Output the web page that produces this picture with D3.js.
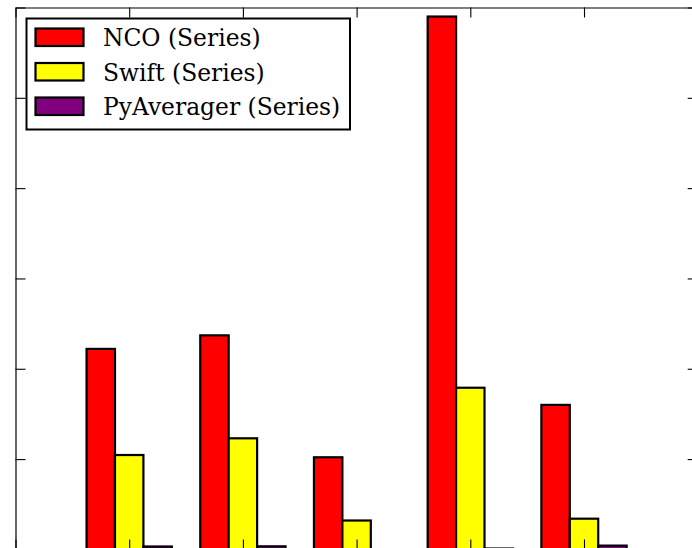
<!DOCTYPE html>
<html>
<head>
<meta charset="utf-8">
<script src="https://cdn.jsdelivr.net/npm/d3@7"></script>
<style>
  html, body { margin: 0; padding: 0; background: #fff; }
  svg { display: block; overflow: hidden; }
</style>
</head>
<body>
<div id="chart"></div>
<script>
// Group positions on the x axis and the three series plotted at each one
const categories = [1, 2, 3, 4, 5];
const seriesNames = ["NCO (Series)", "Swift (Series)", "PyAverager (Series)"];
const seriesColors = ["#ff0000", "#ffff00", "#800080"];
const ncoValues = [2.22, 2.37, 1.02, 5.90, 1.60];
const swiftValues = [1.045, 1.23, 0.32, 1.79, 0.34];
const pyAveragerValues = [0.032, 0.034, 0.0, 0.01, 0.042];
const xTicks = [0, 1, 2, 3, 4, 5, 6];
const yTicks = [0, 1, 2, 3, 4, 5, 6];

const series = [ncoValues, swiftValues, pyAveragerValues];

const W = 692, H = 548;
const svg = d3.select("#chart").append("svg")
  .attr("width", W).attr("height", H);

// Axes frame: the plot area extends slightly past the visible window
const x = d3.scaleLinear().domain([0, 6]).range([15.5, 697.7]);
const y = d3.scaleLinear().domain([0, 6]).range([549.4, 7.5]);

const barW = x(0.25) - x(0);
const offsets = [-0.375, -0.125, 0.125];

// Bars, one series after the other
series.forEach((vals, si) => {
  svg.append("g").selectAll("rect")
    .data(categories.map((c, i) => ({ c, v: vals[i] })))
    .join("rect")
    .attr("x", d => x(d.c + offsets[si]))
    .attr("width", barW)
    .attr("y", d => y(d.v))
    .attr("height", d => y(0) - y(d.v))
    .attr("fill", seriesColors[si])
    .attr("stroke", "#000")
    .attr("stroke-width", 2.2);
});

// Spines with inward ticks on every side, no tick labels
const tick = 10;
function styleAxis(g) {
  g.selectAll("text").remove();
  g.selectAll("path.domain").attr("stroke", "#000").attr("stroke-width", 1.2);
  g.selectAll(".tick line").attr("stroke", "#000").attr("stroke-width", 1.1);
}
svg.append("g").attr("transform", `translate(${x(0)},0)`)
  .call(d3.axisLeft(y).tickValues(yTicks).tickSize(-tick).tickSizeOuter(0).tickFormat(""))
  .call(styleAxis);
svg.append("g").attr("transform", `translate(${x(6)},0)`)
  .call(d3.axisRight(y).tickValues(yTicks).tickSize(-tick).tickSizeOuter(0).tickFormat(""))
  .call(styleAxis);
svg.append("g").attr("transform", `translate(0,${y(6)})`)
  .call(d3.axisTop(x).tickValues(xTicks).tickSize(-tick).tickSizeOuter(0).tickFormat(""))
  .call(styleAxis);
svg.append("g").attr("transform", `translate(0,${y(0)})`)
  .call(d3.axisBottom(x).tickValues(xTicks).tickSize(-tick).tickSizeOuter(0).tickFormat(""))
  .call(styleAxis);

// Legend
const legend = svg.append("g");
legend.append("rect")
  .attr("x", 26.5).attr("y", 18.5).attr("width", 323.5).attr("height", 111)
  .attr("fill", "#fff").attr("stroke", "#000").attr("stroke-width", 2);
seriesNames.forEach((name, i) => {
  const rowY = 28.5 + i * 34.5;
  legend.append("rect")
    .attr("x", 35.5).attr("y", rowY).attr("width", 48).attr("height", 17.5)
    .attr("fill", seriesColors[i]).attr("stroke", "#000").attr("stroke-width", 2.2);
  legend.append("text")
    .attr("x", 103).attr("y", rowY + 17.5)
    .attr("font-family", "DejaVu Serif")
    .attr("font-size", 23.4)
    .attr("fill", "#000")
    .text(name);
});
</script>
</body>
</html>
